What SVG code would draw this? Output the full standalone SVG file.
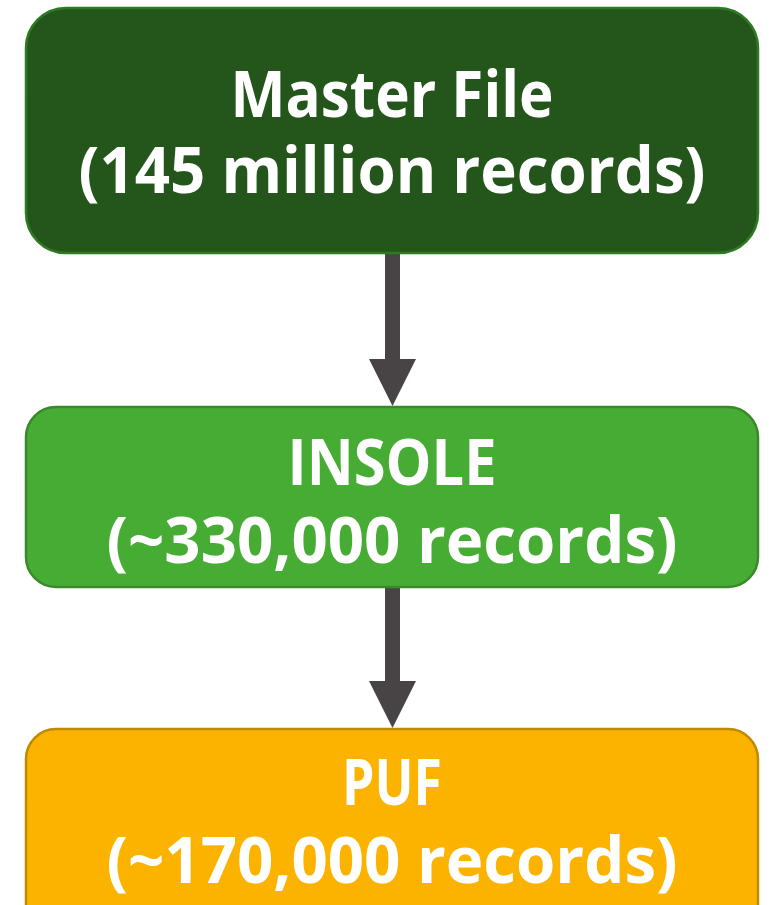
<svg xmlns="http://www.w3.org/2000/svg" width="769" height="905" viewBox="0 0 769 905">
  <style>
    .lbl { font-family: "Open Sans", "DejaVu Sans", sans-serif; font-weight: 700; font-size: 64px; fill: #ffffff; text-anchor: middle; }
    .conn { stroke: #484446; stroke-width: 15; fill: none; }
  </style>
  <defs>
    <marker id="head" markerUnits="userSpaceOnUse" markerWidth="47" markerHeight="47" refX="3" refY="23.5" orient="auto">
      <path d="M0,0 L47,23.5 L0,47 z" fill="#484446"/>
    </marker>
  </defs>
  <rect width="769" height="905" fill="#ffffff"/>
  <g id="connectors">
    <line class="conn" x1="392.5" y1="252" x2="392.5" y2="362" marker-end="url(#head)"/>
    <line class="conn" x1="392.5" y1="586" x2="392.5" y2="684" marker-end="url(#head)"/>
  </g>
  <g id="master">
    <rect x="26" y="8" width="732" height="245" rx="40" fill="#24561C" stroke="#2E7A22" stroke-width="2.5"/>
    <text class="lbl" x="392" y="117" textLength="323" lengthAdjust="spacingAndGlyphs">Master File</text>
    <text class="lbl" x="392" y="193" textLength="627" lengthAdjust="spacingAndGlyphs">(145 million records)</text>
  </g>
  <g id="insole">
    <rect x="26" y="407" width="732" height="180" rx="30" fill="#46AC34" stroke="#3A8A2C" stroke-width="2.5"/>
    <text class="lbl" x="392" y="485" textLength="209" lengthAdjust="spacingAndGlyphs">INSOLE</text>
    <text class="lbl" x="392" y="563" textLength="571" lengthAdjust="spacingAndGlyphs">(~330,000 records)</text>
  </g>
  <g id="puf">
    <rect x="26" y="729" width="732" height="220" rx="30" fill="#FBB300" stroke="#C08A00" stroke-width="2.5"/>
    <text class="lbl" x="392" y="805" textLength="100" lengthAdjust="spacingAndGlyphs">PUF</text>
    <text class="lbl" x="392" y="883" textLength="571" lengthAdjust="spacingAndGlyphs">(~170,000 records)</text>
  </g>
</svg>
